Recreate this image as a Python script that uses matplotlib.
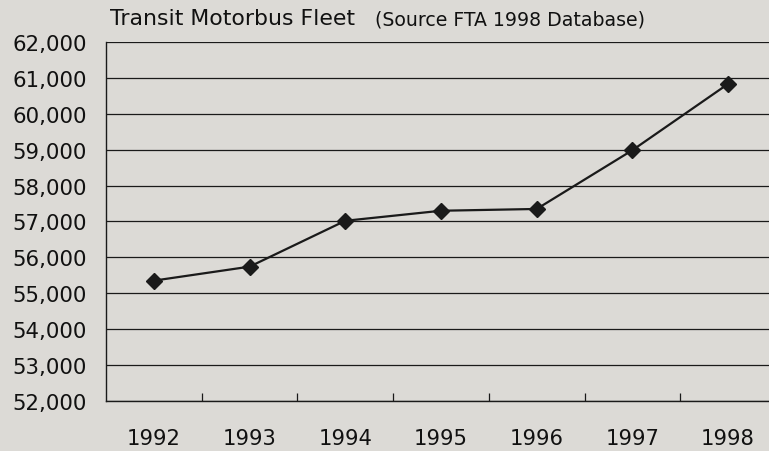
import matplotlib
matplotlib.use("Agg")
import matplotlib.pyplot as plt
from matplotlib.ticker import FixedLocator, NullFormatter

years = ["1992", "1993", "1994", "1995", "1996", "1997", "1998"]
fleet = [55350, 55740, 57020, 57300, 57350, 58990, 60840]
y_ticks = list(range(52000, 62001, 1000))
y_tick_labels = [f"{v:,}" for v in y_ticks]

title_main = "Transit Motorbus Fleet"
title_sub = "(Source FTA 1998 Database)"

bg = "#dcdad6"
ink = "#1a1a1a"

plt.rcParams['font.family'] = ['DejaVu Sans']

fig = plt.figure(figsize=(7.69, 4.52), dpi=100, facecolor=bg)
ax = fig.add_axes([106 / 769, 1 - 401.7 / 452, 670 / 769, (401.7 - 43.3) / 452])
ax.set_facecolor(bg)

x = list(range(len(years)))
ax.plot(x, fleet, color=ink, lw=1.6, marker='D', ms=8, mfc=ink, mec=ink, zorder=3)

ax.set_xlim(-0.5, len(years) - 0.5)
ax.set_ylim(y_ticks[0], y_ticks[-1])

ax.set_yticks(y_ticks)
ax.set_yticklabels(y_tick_labels, fontsize=15.3, color="#111111")
ax.tick_params(axis='y', length=0, pad=14)
ax.yaxis.grid(True, color=ink, lw=0.9)
ax.set_axisbelow(True)

# category boundaries ticks (major, inside) and centered labels (minor)
ax.xaxis.set_major_locator(FixedLocator([i + 0.5 for i in range(len(years) - 1)]))
ax.xaxis.set_major_formatter(NullFormatter())
ax.xaxis.set_minor_locator(FixedLocator(x))
ax.set_xticklabels(years, minor=True, fontsize=15.2, color="#111111")
ax.tick_params(axis='x', which='major', direction='in', length=6, width=0.9, color=ink)
ax.tick_params(axis='x', which='minor', length=0, pad=20)

for s in ['top', 'right']:
    ax.spines[s].set_visible(False)
for s in ['left', 'bottom']:
    ax.spines[s].set_color(ink)
    ax.spines[s].set_linewidth(1.0)

fig.text(110 / 769, 1 - 25 / 452, title_main, fontsize=15.8, color="#111111", ha='left', va='baseline')
fig.text(375 / 769, 1 - 26 / 452, title_sub, fontsize=13.6, color="#111111", ha='left', va='baseline')

fig.savefig("out.png", dpi=100, facecolor=bg)
